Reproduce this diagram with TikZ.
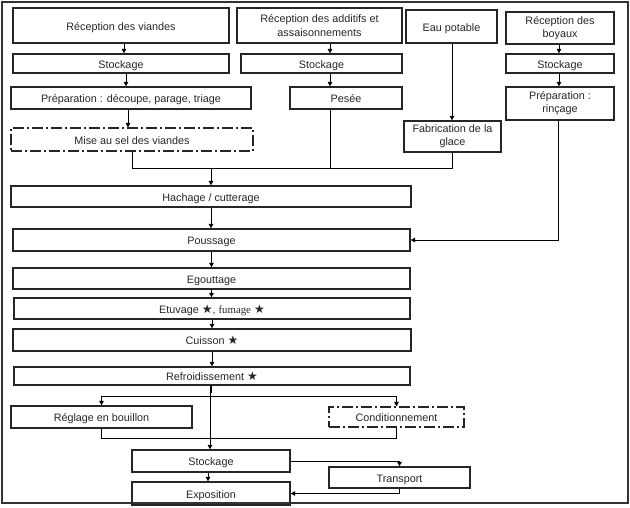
\documentclass[tikz,border=0pt]{standalone}
\usepackage{fontspec}
\setmainfont{Liberation Sans}
\newfontfamily\tmsfont{Liberation Serif}
\newfontfamily\starfont{DejaVu Sans}
\usetikzlibrary{arrows.meta}
\newcommand{\bstar}{{\starfont\fontsize{12}{12}\selectfont\char"2605}}
\begin{document}
\begin{tikzpicture}[x=1pt,y=-1pt,
  box/.style={draw=black!85,line width=1.3pt,inner sep=0pt,align=center,
    text=black!85,font=\fontsize{10.8}{13.2}\selectfont},
  one/.style={text height=9.2pt,text depth=0pt},
  dbox/.style={box,line width=1.1pt,dash pattern=on 11pt off 3pt on 2pt off 3pt},
  conn/.style={draw=black,line width=1pt},
  arr/.style={conn,-{Triangle[length=4.5pt,width=4.5pt]}}]
\useasboundingbox (0,0) rectangle (630,507);
\draw[line width=1.2pt,black!80] (2,2) rectangle (628,503);
% top column A
\node[box,one,minimum width=216,minimum height=35] (A1) at (121,25.5) {Réception des viandes};
\node[box,one,minimum width=216,minimum height=19] (A2) at (121,63.5) {Stockage};
\node[box,one,minimum width=240,minimum height=22] (A3) at (131,98) {Préparation : découpe, parage, triage};
\node[dbox,one,minimum width=242,minimum height=23] (A4) at (132,139.5) {Mise au sel des viandes};
% column B
\node[box,minimum width=165,minimum height=35] (B1) at (319.5,25.5) {Réception des additifs et\\assaisonnements};
\node[box,one,minimum width=161,minimum height=19] (B2) at (321.5,63.5) {Stockage};
\node[box,one,minimum width=112,minimum height=22] (B3) at (346,98) {Pesée};
% column C
\node[box,one,minimum width=91,minimum height=33] (C1) at (451.5,26.5) {Eau potable};
\node[box,minimum width=97,minimum height=31] (C2) at (452.5,136.5) {Fabrication de la\\glace};
% column D
\node[box,minimum width=108,minimum height=32] (D1) at (560,28) {Réception des\\boyaux};
\node[box,one,minimum width=108,minimum height=19] (D2) at (560,63.5) {Stockage};
\node[box,minimum width=108,minimum height=33] (D3) at (560,103.5) {Préparation :\\rinçage};
% main chain
\node[box,one,minimum width=400,minimum height=21] (E1) at (211,196.5) {Hachage / cutterage};
\node[box,one,minimum width=397,minimum height=22] (E2) at (211.5,240) {Poussage};
\node[box,one,minimum width=397,minimum height=21] (E3) at (211.5,278.5) {Egouttage};
\node[box,one,minimum width=396,minimum height=21] (E4) at (212,308.5) {Etuvage \bstar, {\tmsfont fumage} \bstar};
\node[box,one,minimum width=398,minimum height=22] (E5) at (212,340) {Cuisson \bstar};
\node[box,one,minimum width=396,minimum height=18] (E6) at (212,376) {Refroidissement \bstar};
\node[box,one,minimum width=181,minimum height=22] (F1) at (101.5,417) {Réglage en bouillon};
\node[dbox,one,minimum width=135,minimum height=20] (F2) at (396.5,417) {Conditionnement};
\node[box,one,minimum width=158,minimum height=22] (G1) at (211,461) {Stockage};
\node[box,one,minimum width=158,minimum height=23] (G2) at (211,493.5) {Exposition};
\node[box,one,minimum width=141,minimum height=21] (G3) at (399.5,477.5) {Transport};
% connectors column A
\draw[arr] ([xshift=3pt]A1.south) -- ([xshift=3pt]A1.south |- A2.north);
\draw[arr] ([xshift=5pt]A2.south) -- ([xshift=5pt]A2.south |- A3.north);
\draw[arr] ([xshift=-3pt]A3.south) -- ([xshift=-3pt]A3.south |- A4.north);
% column B
\draw[arr] ([xshift=10.5pt]B1.south) -- ([xshift=10.5pt]B1.south |- B2.north);
\draw[arr] ([xshift=8.5pt]B2.south) -- ([xshift=8.5pt]B2.south |- B3.north);
% column C
\draw[arr] ([xshift=0.5pt]C1.south) -- ([xshift=0.5pt]C1.south |- C2.north);
% column D
\draw[arr] ([xshift=-1pt]D1.south) -- ([xshift=-1pt]D1.south |- D2.north);
\draw[arr] ([xshift=-1pt]D2.south) -- ([xshift=-1pt]D2.south |- D3.north);
% junction
\coordinate (j) at (211,168);
\draw[conn] (A4.south) |- (j);
\draw[conn] ([xshift=-16pt]B3.south) |- (j);
\draw[conn] (C2.south) |- (j);
\draw[arr] (j) -- (E1.north);
\draw[arr] ([xshift=-1.5pt]D3.south) |- (E2.east);
% main chain
\draw[arr] (E1.south) -- (E1.south |- E2.north);
\draw[arr] (E2.south) -- (E2.south |- E3.north);
\draw[arr] (E3.south) -- (E3.south |- E4.north);
\draw[arr] (E4.south) -- (E4.south |- E5.north);
\draw[arr] (E5.south) -- (E5.south |- E6.north);
% branches
\coordinate (k) at (210,396);
\draw[conn,line width=2.5pt] (211,385) -- (211,393);
\draw[arr] ([xshift=-2pt]E6.south) -- ([xshift=-2pt]E6.south |- G1.north);
\draw[arr] (k) -| (F1.north);
\draw[arr] (k) -| (F2.north);
\draw[conn] (F1.south) -- ++(0,10) -| (F2.south);
\draw[arr] ([xshift=-3pt]G1.south) -- ([xshift=-3pt]G1.south |- G2.north);
\draw[arr] (G1.east) -| (G3.north);
\draw[arr] (G3.south) |- (G2.east);
\end{tikzpicture}
\end{document}
